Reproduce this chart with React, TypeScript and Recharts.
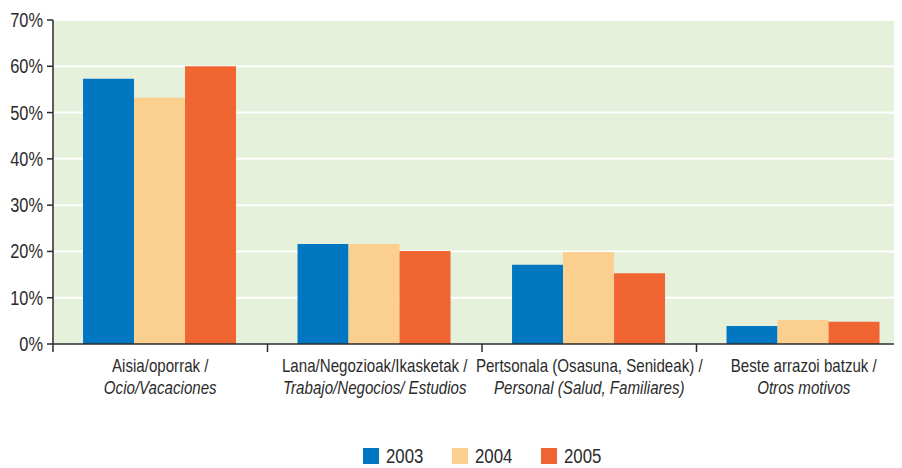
import { BarChart, Bar, XAxis, YAxis, CartesianGrid, Legend } from 'recharts'

const categories = [
  ['Aisia/oporrak /', 'Ocio/Vacaciones'],
  ['Lana/Negozioak/Ikasketak /', 'Trabajo/Negocios/ Estudios'],
  ['Pertsonala (Osasuna, Senideak) /', 'Personal (Salud, Familiares)'],
  ['Beste arrazoi batzuk /', 'Otros motivos']
]
const years = ['2003', '2004', '2005']
const v2003 = [57.3, 21.6, 17.1, 3.9]
const v2004 = [53.2, 21.6, 19.9, 5.2]
const v2005 = [60.0, 20.1, 15.3, 4.8]
const yTicks = [0, 10, 20, 30, 40, 50, 60, 70]

const colors = ['#0077c0', '#fbd08f', '#f16532']
// no narrow font installed, so Liberation Sans gets squeezed horizontally
const font = "'Liberation Sans', Arial, sans-serif"
const SQUEEZE = 0.84
const ink = '#2b2b2b'

const W = 940
const H = 460
const margin = { top: 12, right: 37, left: 0, bottom: 40 }
const Y_W = 45
const PLOT_W = W - margin.left - margin.right - Y_W

const data = categories.map((c, i) => ({
  name: c[0],
  sub: c[1],
  y2003: v2003[i],
  y2004: v2004[i],
  y2005: v2005[i]
}))

function CatTick(props: any) {
  const { x, y, payload, index } = props
  const band = PLOT_W / categories.length
  const c = categories[payload.index ?? index]
  return (
    <g>
      <line x1={x + band / 2} x2={x + band / 2} y1={y - 8} y2={y} stroke={ink} strokeWidth={1.5} />
      {index === 0 && <line x1={x - band / 2} x2={x - band / 2} y1={y - 8} y2={y} stroke={ink} strokeWidth={1.5} />}
      <g transform={`translate(${x},${y}) scale(${SQUEEZE},1)`}>
        <text x={0} y={20} textAnchor="middle" fill={ink} fontSize={18} fontFamily={font}>
          {c[0]}
        </text>
        <text x={0} y={42} textAnchor="middle" fill={ink} fontSize={18} fontFamily={font} fontStyle="italic">
          {c[1]}
        </text>
      </g>
    </g>
  )
}

function PctTick(props: any) {
  const { x, y, payload } = props
  return (
    <g transform={`translate(${x},${y}) scale(${SQUEEZE},1)`}>
      <text x={0} y={7} textAnchor="end" fill={ink} fontSize={19.5} fontFamily={font}>
        {payload.value + '%'}
      </text>
    </g>
  )
}

function LegendBox(props: any) {
  const items = props.payload || []
  return (
    <div style={{ display: 'flex', height: 24, alignItems: 'center', fontFamily: font, fontSize: 20, color: ink }}>
      {items.map((it: any) => (
        <div key={it.value} style={{ width: 89, display: 'flex', alignItems: 'center' }}>
          <span style={{ width: 16, height: 16, background: it.color, display: 'inline-block', marginRight: 7 }} />
          <span style={{ display: 'inline-block', transform: `scaleX(${SQUEEZE})`, transformOrigin: 'left center' }}>
            {it.value}
          </span>
        </div>
      ))}
    </div>
  )
}

export default function App() {
  return (
    <div style={{ width: 894, overflow: 'hidden' }}>
      <BarChart width={W} height={H} data={data} margin={margin} barCategoryGap="14%" barGap={0}>
        <CartesianGrid vertical={false} stroke="#ffffff" strokeWidth={2} fill="#e6f1dc" />
        <XAxis
          dataKey="name"
          interval={0}
          height={60}
          tickLine={false}
          tickSize={8}
          tickMargin={0}
          axisLine={{ stroke: ink, strokeWidth: 1.5 }}
          tick={<CatTick />}
        />
        <YAxis
          domain={[0, 70]}
          ticks={yTicks}
          width={Y_W}
          tickSize={6}
          tickMargin={4}
          axisLine={{ stroke: ink, strokeWidth: 1.5 }}
          tickLine={{ stroke: ink, strokeWidth: 1.5 }}
          tick={<PctTick />}
        />
        <Legend verticalAlign="bottom" wrapperStyle={{ left: 355, bottom: 0, width: 300 }} content={<LegendBox />} />
        <Bar dataKey="y2003" name={years[0]} fill={colors[0]} isAnimationActive={false} />
        <Bar dataKey="y2004" name={years[1]} fill={colors[1]} isAnimationActive={false} />
        <Bar dataKey="y2005" name={years[2]} fill={colors[2]} isAnimationActive={false} />
      </BarChart>
    </div>
  )
}
